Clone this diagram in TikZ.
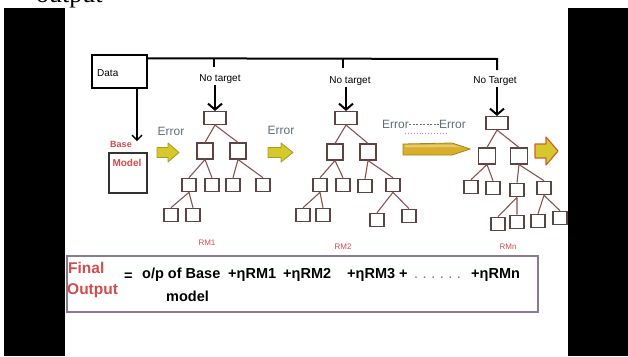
\documentclass[tikz,border=0pt]{standalone}
\usepackage{fontspec}
\setmainfont{Liberation Sans}
\newfontfamily\serifout{Liberation Serif}
\usetikzlibrary{arrows.meta}
\definecolor{boxc}{HTML}{5A4444}
\definecolor{linec}{HTML}{8C5252}
\definecolor{redt}{HTML}{D24C4C}
\definecolor{errc}{HTML}{5E6E7E}
\definecolor{yel}{HTML}{D4C82C}
\definecolor{yeld}{HTML}{A89C1E}
\definecolor{goldc}{HTML}{D8AE2A}
\definecolor{goldd}{HTML}{A8841E}
\definecolor{fboxc}{HTML}{8A7A8E}
\definecolor{dotc}{HTML}{B090C0}
\definecolor{orc}{HTML}{D0602A}
\begin{document}
\begin{tikzpicture}[x=1pt,y=-1pt,
  tb/.style={draw=boxc, line width=1.1pt, fill=white, inner sep=0pt},
  rt/.style={tb, minimum width=22pt, minimum height=13pt},
  lb/.style={tb, minimum width=16pt, minimum height=16pt},
  sb/.style={tb, minimum width=14pt, minimum height=13.5pt},
  edge/.style={draw=linec, line width=1.1pt},
  nt/.style={font=\fontsize{10}{11}\selectfont, inner sep=1pt},
  dn/.style={line width=2pt, -{Straight Barb[length=6pt,width=14pt]}},
  err/.style={text=errc, font=\fontsize{12}{13}\selectfont, inner sep=0pt},
  rm/.style={text=redt, font=\fontsize{8}{9}\selectfont, inner sep=0pt},
  fx/.style={font=\bfseries\fontsize{14.5}{16}\selectfont, inner sep=0pt, anchor=base west},
  yarr/.style={fill=yel, draw=yeld, line width=0.8pt, line join=round}
]
\useasboundingbox (0,0) rectangle (628,356);
\fill[white] (0,0) rectangle (628,356);
% top cut-off text
\node[anchor=base west, inner sep=0pt, font=\serifout\fontsize{26}{28}\selectfont] (outtxt) at (36,2) {output};
% black side bars
\fill[black] (4,8) rectangle (65,356);
\fill[black] (568,8) rectangle (628,356);

% Data box
\node[draw=black, line width=1.4pt, minimum width=55pt, minimum height=33pt, inner sep=0pt] (data) at (119.5,71.5) {};
\node[nt, anchor=west] (datat) at (96,73) {Data};
\coordinate (tr) at (497,59);
\coordinate (tk1) at (214,59);
\coordinate (tk2) at (343,59);
\draw[line width=2pt] ([yshift=-4pt]data.north east) -- (tr) -- ++(0,11);
\draw[line width=2pt] (tk1) -- ++(0,8);
\draw[line width=2pt] (tk2) -- ++(0,9);

% Base model
\coordinate (bt) at (137,141);
\draw[line width=1.4pt, -{Straight Barb[length=5pt,width=10pt]}] (data.south -| bt) -- (bt);
\node[text=redt, font=\bfseries\fontsize{9}{10}\selectfont, inner sep=0pt] (baset) at (121,144) {Base};
\node[draw=black!80, line width=1.4pt, minimum width=38pt, minimum height=40pt, inner sep=0pt] (mbox) at (128,173) {};
\node[text=redt, font=\bfseries\fontsize{10}{11}\selectfont, inner sep=0pt] (modelt) at (127,163) {Model};

% No target labels
\node[nt] (nt1) at (220,79) {No target};
\node[nt] (nt2) at (350,81) {No target};
\node[nt] (nt3) at (495,81) {No Target};

% Tree 1
\node[rt] (r1) at (215,118) {};
\node[lb] (a1) at (205,151) {};
\node[lb] (b1) at (238,151) {};
\node[sb] (c1) at (189,185) {};
\node[sb] (d1) at (212,185) {};
\node[sb] (e1) at (233,185) {};
\node[sb] (f1) at (263,185) {};
\node[sb] (g1) at (171,215) {};
\node[sb] (h1) at (193,215) {};
\draw[dn] (r1 |- nt1.south) -- (r1.north);
\path[edge] (r1.south) -- (a1.north) (r1.south) -- (b1.north)
  (a1.south) -- (c1.north) (a1.south) -- (d1.north)
  (b1.south) -- (e1.north) (b1.south) -- (f1.north)
  (c1.south) -- (g1.north) (c1.south) -- (h1.north);
\node[rm] (rm1) at (207,243) {RM1};

% Tree 2
\node[rt] (r2) at (346,118) {};
\node[lb] (a2) at (335,152) {};
\node[lb] (b2) at (368,152) {};
\node[sb] (c2) at (320,185) {};
\node[sb] (d2) at (343,185) {};
\node[sb] (e2) at (365,186) {};
\node[sb] (f2) at (393,185) {};
\node[sb] (g2) at (303,215) {};
\node[sb] (h2) at (323,215) {};
\node[sb] (i2) at (377,220) {};
\node[sb] (j2) at (409,216) {};
\draw[dn] (r2 |- nt2.south) -- (r2.north);
\path[edge] (r2.south) -- (a2.north) (r2.south) -- (b2.north)
  (a2.south) -- (c2.north) (a2.south) -- (d2.north)
  (b2.south) -- (e2.north) (b2.south) -- (f2.north)
  (c2.south) -- (g2.north) (c2.south) -- (h2.north)
  (f2.south) -- (i2.north) (f2.south) -- (j2.north);
\node[rm] (rm2) at (343,247) {RM2};

% Tree 3
\node[rt] (r3) at (497,123) {};
\node[lb, minimum width=17pt] (a3) at (487,156) {};
\node[lb, minimum width=17pt] (b3) at (519,156) {};
\node[sb] (c3) at (471,187) {};
\node[sb] (d3) at (493,188) {};
\node[sb] (e3) at (517,190) {};
\node[sb] (f3) at (544,188) {};
\node[sb] (g3) at (498,224) {};
\node[sb] (h3) at (517,222) {};
\node[sb] (i3) at (538,221) {};
\node[sb] (j3) at (560,218) {};
\draw[dn] (r3 |- nt3.south) -- (r3.north);
\path[edge] (r3.south) -- (a3.north) (r3.south) -- (b3.north)
  (a3.south) -- (c3.north) (a3.south) -- (d3.north)
  (b3.south) -- (e3.north) (b3.south) -- (f3.north)
  (e3.south) -- (g3.north) (e3.south) -- (h3.north)
  (f3.south) -- (i3.north) (f3.south) -- (j3.north);
\node[rm] (rm3) at (508,247) {RMn};

% Error arrows
\filldraw[yarr] (157,147.5) -- (168,147.5) -- (168,143) -- (179,152.5) -- (168,162) -- (168,157.5) -- (157,157.5) -- cycle;
\node[err] (er1) at (171,131) {Error};
\filldraw[yarr] (268,147.5) -- (281,147.5) -- (281,143) -- (293,152.5) -- (281,162) -- (281,157.5) -- (268,157.5) -- cycle;
\node[err] (er2) at (281,130) {Error};
\node[err, anchor=west] (er3a) at (382,124) {Error};
\node[err, anchor=east] (er3b) at (466,124) {Error};
\draw[errc, line width=0.8pt, dash pattern=on 2pt off 1.5pt] (er3a.east) -- (er3b.west);
\draw[dotc, line width=0.9pt, dotted] (405,133) -- (448,133);
\fill[goldc, draw=goldd, line width=0.8pt] (403,144) -- (452,143) -- (470,149) -- (452,155) -- (403,155) -- cycle;
\fill[white, opacity=0.35] (405,145) -- (452,144.5) -- (462,147) -- (405,147.5) -- cycle;
\filldraw[fill=yel, draw=orc, line width=1.2pt, line join=round] (535,144) -- (546,144) -- (546,137) -- (558,151) -- (546,165) -- (546,158) -- (535,158) -- cycle;

% Formula box
\node[draw=fboxc, line width=2pt, fill=white, minimum width=471pt, minimum height=56pt, inner sep=0pt] (fbox) at (302.5,284) {};
\node[fx, text=redt, font=\bfseries\fontsize{15.5}{17}\selectfont] (fin) at (68,273) {Final};
\node[fx, text=redt, font=\bfseries\fontsize{15.5}{17}\selectfont] (fout) at (67,294) {Output};
\node[fx] (eq) at (124,280) {=};
\node[fx] (op) at (142,278) {o/p of Base};
\node[fx] (mdl) at (166,301) {model};
\node[fx] (t1) at (228,278) {+ηRM1};
\node[fx] (t2) at (283,278) {+ηRM2};
\node[fx] (t3) at (347,278) {+ηRM3 +};
\node[fx, font=\fontsize{14.5}{16}\selectfont, text=black!55] (dots) at (414,278) {.\hspace{4.5pt}.\hspace{4.5pt}.\hspace{4.5pt}.\hspace{4.5pt}.\hspace{4.5pt}.};
\node[fx] (tn) at (471,278) {+ηRMn};
\end{tikzpicture}
\end{document}
